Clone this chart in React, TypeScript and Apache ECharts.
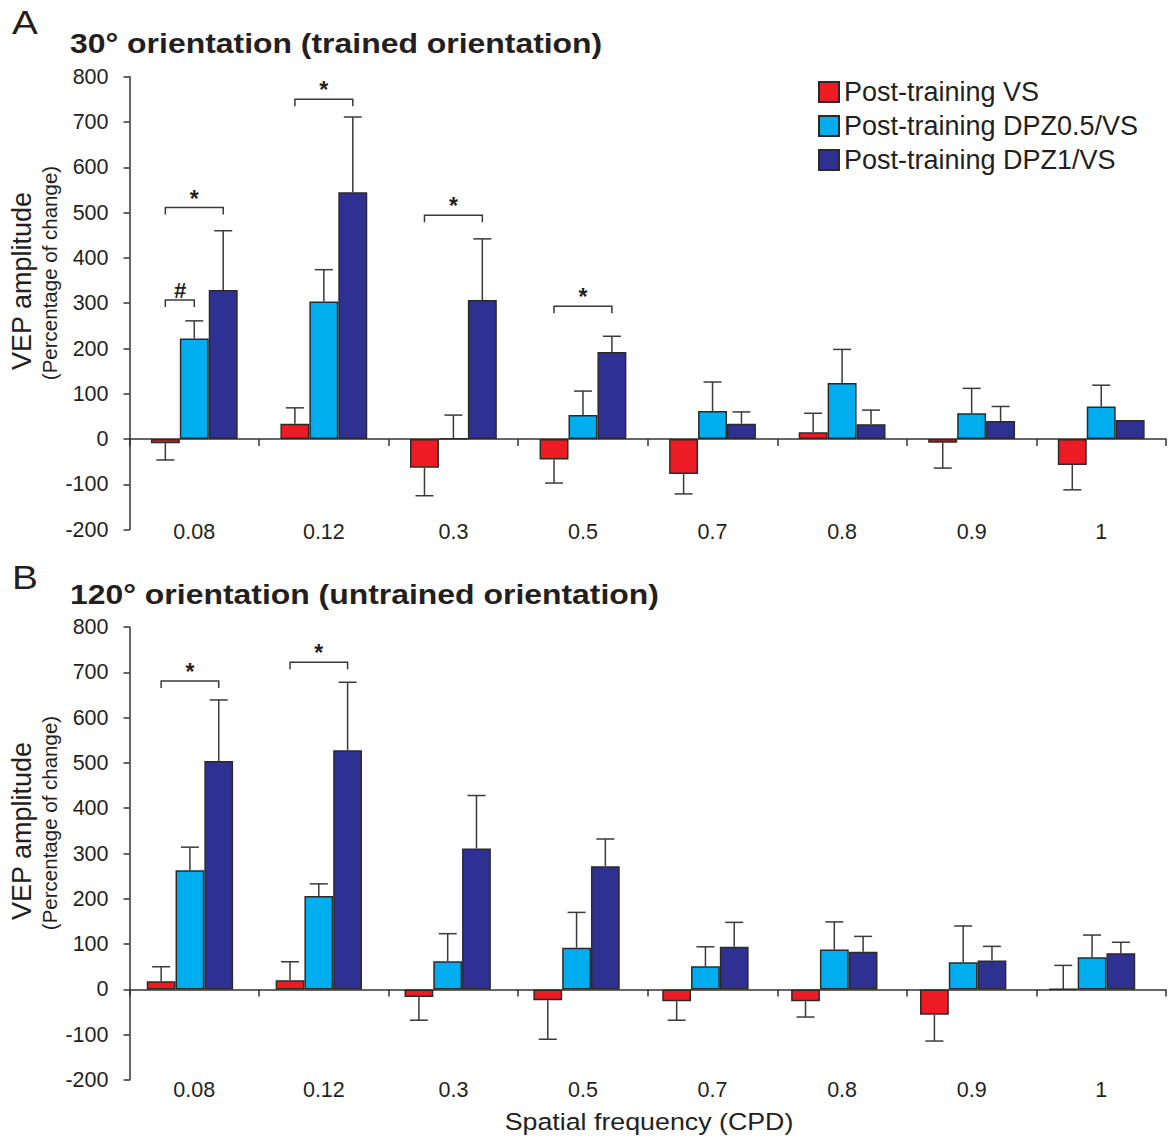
import React, { useEffect, useRef } from 'react';
import * as echarts from 'echarts';

const FONT = '"Liberation Sans", Arial, Helvetica, sans-serif';
const INK = '#231F20';

const categories = ['0.08', '0.12', '0.3', '0.5', '0.7', '0.8', '0.9', '1'];
const seriesNames = ['Post-training VS', 'Post-training DPZ0.5/VS', 'Post-training DPZ1/VS'];
const colors = ['#ED1C24', '#00AEEF', '#2E3192'];

// Panel A: 30° orientation (trained)
const aVS = [-9, 34, -63, -45, -77, 15, -8, -57];
const aVSErr = [-46, 69, -125, -97, -121, 57, -64, -112];
const aD05 = [222, 304, 1, 53, 62, 124, 57, 72];
const aD05Err = [261, 374, 53, 106, 126, 198, 112, 119];
const aD1 = [329, 545, 307, 192, 34, 33, 40, 42];
const aD1Err = [460, 711, 442, 227, 60, 64, 72, null];

// Panel B: 120° orientation (untrained)
const bVS = [18, 20, -17, -24, -26, -26, -56, 1];
const bVSErr = [50, 61, -68, -110, -68, -61, -114, 53];
const bD05 = [263, 206, 62, 92, 51, 88, 60, 71];
const bD05Err = [314, 233, 123, 170, 94, 149, 140, 120];
const bD1 = [504, 528, 311, 272, 94, 83, 64, 80];
const bD1Err = [639, 678, 428, 332, 148, 117, 95, 104];

// significance brackets: [category index, y value, from bar, to bar]
const bracketsA = [[0, 511, 0, 2], [0, 307, 0, 1], [1, 750, 0, 2], [2, 494, 0, 2], [3, 293, 0, 2]];
const bracketLabelsA = ['*', '#', '*', '*', '*'];
const bracketsB = [[0, 681, 0, 2], [1, 722, 0, 2]];
const bracketLabelsB = ['*', '*'];

const yTicksMin = -200;
const yTicksMax = 800;
const yTickStep = 100;

const GAP = 0.33;
const SX = 1.14; // horizontal stretch of the original figure's lettering

function errRender(offsetIdx: number) {
  return (params: any, api: any) => {
    const cat = api.value(0);
    const v = api.value(1);
    const e = api.value(2);
    const band = api.size([1, 0])[0];
    const bw = (band * (1 - GAP)) / 3;
    const p0 = api.coord([cat, v]);
    const p1 = api.coord([cat, e]);
    const x = p0[0] + offsetIdx * bw;
    const st = { stroke: '#3a3a3a', lineWidth: 1.5 };
    return {
      type: 'group',
      children: [
        { type: 'line', shape: { x1: x, y1: p0[1], x2: x, y2: p1[1] }, style: st },
        { type: 'line', shape: { x1: x - 9, y1: p1[1], x2: x + 9, y2: p1[1] }, style: st },
      ],
    };
  };
}

function bracketRender(labels: string[]) {
  return (params: any, api: any) => {
    const cat = api.value(0);
    const y = api.value(1);
    const f = api.value(2);
    const t = api.value(3);
    const band = api.size([1, 0])[0];
    const bw = (band * (1 - GAP)) / 3;
    const p = api.coord([cat, y]);
    const x1 = p[0] + (f - 1) * bw;
    const x2 = p[0] + (t - 1) * bw;
    const lab = labels[params.dataIndex];
    const isStar = lab === '*';
    return {
      type: 'group',
      children: [
        {
          type: 'polyline',
          shape: { points: [[x1, p[1] + 7], [x1, p[1]], [x2, p[1]], [x2, p[1] + 7]] },
          style: { stroke: '#3a3a3a', lineWidth: 1.5, fill: 'none' },
        },
        {
          type: 'text',
          style: {
            text: lab,
            x: (x1 + x2) / 2,
            y: p[1] - (isStar ? 9 : 10),
            textAlign: 'center',
            textVerticalAlign: 'middle',
            fill: INK,
            font: isStar ? `bold 23px ${FONT}` : `italic bold 22px ${FONT}`,
          },
        },
      ],
    };
  };
}

function buildPanel(
  xBarAxis: number,
  yBarAxis: number,
  vals: number[][],
  errs: (number | null)[][],
  brackets: number[][],
  bracketLabels: string[]
) {
  const out: any[] = [];
  vals.forEach((v, k) => {
    out.push({
      name: seriesNames[k],
      type: 'bar',
      xAxisIndex: xBarAxis,
      yAxisIndex: yBarAxis,
      data: v,
      barGap: '0%',
      barCategoryGap: GAP * 100 + '%',
      itemStyle: { color: colors[k], borderColor: '#2a2a2a', borderWidth: 1.5 },
      z: 2,
    });
  });
  errs.forEach((e, k) => {
    const d: any[] = [];
    e.forEach((ev, i) => {
      if (ev !== null) d.push([i, vals[k][i], ev]);
    });
    out.push({
      type: 'custom',
      xAxisIndex: xBarAxis,
      yAxisIndex: yBarAxis,
      renderItem: errRender(k - 1),
      data: d,
      encode: { x: 0, y: [1, 2] },
      z: 3,
      silent: true,
    });
  });
  out.push({
    type: 'custom',
    xAxisIndex: xBarAxis,
    yAxisIndex: yBarAxis,
    renderItem: bracketRender(bracketLabels),
    data: brackets,
    encode: { x: 0, y: 1 },
    z: 4,
    silent: true,
  });
  return out;
}

function hText(text: string, x: number, y: number, font: string) {
  return {
    type: 'text',
    x,
    y,
    scaleX: SX,
    scaleY: 1,
    style: { text, x: 0, y: 0, textAlign: 'left', textVerticalAlign: 'middle', font, fill: INK },
  };
}

function vText(text: string, x: number, y: number, font: string) {
  return {
    type: 'text',
    x,
    y,
    rotation: Math.PI / 2,
    style: { text, x: 0, y: 0, textAlign: 'center', textVerticalAlign: 'middle', font, fill: INK },
  };
}

const App: React.FC = () => {
  const ref = useRef<HTMLDivElement>(null);
  useEffect(() => {
    if (!ref.current) return;
    const chart = echarts.init(ref.current, undefined, { renderer: 'svg' });

    const yAxisVisible = (gridIndex: number) => ({
      type: 'value',
      gridIndex,
      min: yTicksMin,
      max: yTicksMax,
      interval: yTickStep,
      axisLine: { show: true, lineStyle: { color: '#333', width: 1.5 } },
      axisTick: { show: true, length: 6, lineStyle: { color: '#333', width: 1.5 } },
      axisLabel: { color: INK, fontSize: 21.5, fontFamily: FONT, margin: 21 },
      splitLine: { show: false },
    });
    const xLabelAxis = (gridIndex: number, margin: number) => ({
      type: 'category',
      gridIndex,
      data: categories,
      position: 'bottom',
      axisLine: { show: false, onZero: false },
      axisTick: { show: false },
      axisLabel: { color: INK, fontSize: 21.5, fontFamily: FONT, margin, verticalAlign: 'middle' },
    });
    const xLineAxis = (gridIndex: number) => ({
      type: 'category',
      gridIndex,
      data: categories,
      position: 'top',
      axisLine: { show: true, onZero: true, lineStyle: { color: '#333', width: 1.5 } },
      axisTick: { show: true, inside: true, length: 7, lineStyle: { color: '#333', width: 1.5 } },
      axisLabel: { show: false },
    });

    const option: any = {
      animation: false,
      backgroundColor: '#ffffff',
      textStyle: { fontFamily: FONT },
      grid: [
        { left: 129.5, right: 3, top: 76.7, height: 453 },
        { left: 129.5, right: 3, top: 627, height: 453 },
        { left: 125.5, right: 12.5, top: 627, height: 453 },
      ],
      xAxis: [
        xLabelAxis(0, 2),
        xLineAxis(0),
        xLabelAxis(1, 10),
        xLineAxis(1),
        { type: 'category', gridIndex: 2, data: categories, show: false },
      ],
      yAxis: [
        yAxisVisible(0),
        yAxisVisible(1),
        { type: 'value', gridIndex: 2, min: yTicksMin, max: yTicksMax, interval: yTickStep, show: false },
      ],
      legend: {
        data: seriesNames,
        orient: 'vertical',
        left: 818,
        top: 78.5,
        padding: 0,
        itemWidth: 20,
        itemHeight: 20,
        itemGap: 7,
        icon: 'rect',
        textStyle: { fontSize: 27, color: INK, fontFamily: FONT },
      },
      graphic: [
        hText('A', 12, 22, `34px ${FONT}`),
        hText('30° orientation (trained orientation)', 70, 43, `bold 28px ${FONT}`),
        hText('B', 12, 577, `34px ${FONT}`),
        hText('120° orientation (untrained orientation)', 70, 594, `bold 28px ${FONT}`),
        vText('VEP amplitude', 22, 281, `27px ${FONT}`),
        vText('(Percentage of change)', 49, 273, `20.5px ${FONT}`),
        vText('VEP amplitude', 22, 831, `27px ${FONT}`),
        vText('(Percentage of change)', 49, 823, `20.5px ${FONT}`),
        {
          type: 'text',
          x: 649,
          y: 1122,
          scaleX: SX,
          style: { text: 'Spatial frequency (CPD)', x: 0, y: 0, textAlign: 'center', textVerticalAlign: 'middle', font: `23.5px ${FONT}`, fill: INK },
        },
      ],
      series: [
        ...buildPanel(0, 0, [aVS, aD05, aD1], [aVSErr, aD05Err, aD1Err], bracketsA, bracketLabelsA),
        ...buildPanel(4, 2, [bVS, bD05, bD1], [bVSErr, bD05Err, bD1Err], bracketsB, bracketLabelsB),
      ],
    };
    chart.setOption(option);
    return () => chart.dispose();
  }, []);
  return <div ref={ref} style={{ position: 'absolute', left: 0, top: 0, width: 1169, height: 1137 }} />;
};

export default App;
